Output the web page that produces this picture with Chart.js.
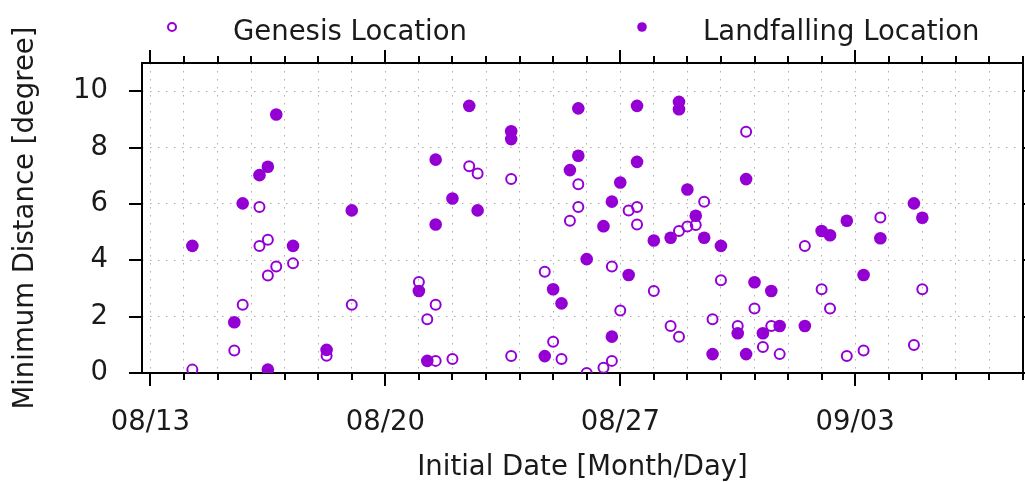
<!DOCTYPE html>
<html>
<head>
<meta charset="utf-8">
<script src="https://cdn.jsdelivr.net/npm/chart.js@4/dist/chart.umd.min.js"></script>
<style>
  html, body { margin: 0; padding: 0; background: #fff; }
  canvas { display: block; }
</style>
</head>
<body>
<canvas id="chart" width="1025" height="482"></canvas>
<script>
// x values are days of August (09/01 = 32), 6-hourly initial times
const genesisDay = [14.25, 15.5, 15.75, 16.25, 16.25, 16.5, 16.5, 16.75, 17.25, 18.25, 19, 21, 21.25, 21.5, 21.5,
  22, 22.5, 22.75, 23.75, 23.75, 24.75, 25, 25.25, 25.5, 25.75, 25.75, 26, 26.5, 26.75, 26.75,
  27, 27.25, 27.5, 27.5, 28, 28.5, 28.75, 28.75, 29, 29.25, 29.5, 29.75, 30, 30.5, 30.75,
  31, 31.25, 31.5, 31.75, 32.5, 33, 33.25, 33.75, 34.25, 34.75, 35.75, 36]
const genesisDist = [0.12, 0.80, 2.42, 5.89, 4.51, 4.73, 3.46, 3.78, 3.89, 0.61, 2.42, 3.23, 1.91, 2.42, 0.43,
  0.50, 7.34, 7.08, 6.88, 0.60, 3.59, 1.11, 0.50, 5.40, 6.70, 5.89, 0.00, 0.19, 0.43, 3.78,
  2.22, 5.77, 5.89, 5.27, 2.91, 1.67, 1.29, 5.04, 5.20, 5.25, 6.08, 1.91, 3.29, 1.67, 8.56,
  2.29, 0.92, 1.67, 0.67, 4.51, 2.97, 2.29, 0.60, 0.80, 5.52, 0.99, 2.97]

const landfallDay = [14.25, 15.5, 15.75, 16.25, 16.5, 16.5, 16.75, 17.25, 18.25, 19, 21, 21.25, 21.5, 21.5,
  22, 22.5, 22.75, 23.75, 23.75, 24.75, 25, 25.25, 25.5, 25.75, 25.75, 26, 26.5, 26.75, 26.75,
  27, 27.25, 27.5, 27.5, 28, 28.5, 28.75, 28.75, 29, 29.25, 29.5, 29.75, 30, 30.5, 30.75, 30.75,
  31, 31.25, 31.5, 31.75, 32.5, 33, 33.25, 33.75, 34.25, 34.75, 35.75, 36]
const landfallDist = [4.51, 1.80, 6.02, 7.02, 7.32, 0.12, 9.17, 4.51, 0.82, 5.77, 2.91, 0.43, 7.57, 5.27,
  6.19, 9.48, 5.77, 8.58, 8.30, 0.60, 2.97, 2.47, 7.20, 9.39, 7.71, 4.04, 5.21, 6.08, 1.29,
  6.76, 3.48, 9.48, 7.49, 4.70, 4.80, 9.62, 9.36, 6.51, 5.58, 4.80, 0.67, 4.51, 1.41, 6.88, 0.67,
  3.22, 1.41, 2.91, 1.67, 1.67, 5.04, 4.89, 5.40, 3.48, 4.78, 6.02, 5.51]

const tickDays = [13, 20, 27, 34]
const tickLabels = ['08/13', '08/20', '08/27', '09/03']
const distTicks = [0, 2, 4, 6, 8, 10]

const purple = '#9400d3'
const textColor = '#1a1a1a'
const fontFamily = "'DejaVu Sans', sans-serif"

const toPoints = (xs, ys) => xs.map((x, i) => ({x: x, y: ys[i]}))

// box, and ticks pointing outward on all four sides
const frame = {
  id: 'frame',
  beforeDatasetsDraw(chart) {
    const {ctx, chartArea: a, scales: {x, y}} = chart
    ctx.save()
    ctx.strokeStyle = '#000'
    ctx.lineWidth = 2
    ctx.strokeRect(a.left, a.top, a.right - a.left, a.bottom - a.top)
    ctx.beginPath()
    x.ticks.forEach(t => {
      const px = Math.round(x.getPixelForValue(t.value))
      const len = tickDays.includes(t.value) ? 13 : 7
      ctx.moveTo(px, a.bottom); ctx.lineTo(px, a.bottom + len)
      ctx.moveTo(px, a.top); ctx.lineTo(px, a.top - len)
    })
    y.ticks.forEach(t => {
      const py = Math.round(y.getPixelForValue(t.value))
      const len = distTicks.includes(t.value) ? 13 : 8
      ctx.moveTo(a.left, py); ctx.lineTo(a.left - len, py)
      ctx.moveTo(a.right, py); ctx.lineTo(a.right + len, py)
    })
    ctx.stroke()
    ctx.restore()
  }
}

const keyLegend = {
  id: 'keyLegend',
  afterDraw(chart) {
    const {ctx, chartArea: a} = chart
    const markX = [30, 500]
    const textX = [91, 561]
    ctx.save()
    ctx.font = '27.5px ' + fontFamily
    ctx.textBaseline = 'alphabetic'
    chart.data.datasets.forEach((ds, i) => {
      ctx.beginPath()
      if (ds.backgroundColor === 'transparent') {
        ctx.arc(a.left + markX[i], a.top - 36, 4, 0, Math.PI * 2)
        ctx.strokeStyle = ds.borderColor
        ctx.lineWidth = 2
        ctx.stroke()
      } else {
        ctx.arc(a.left + markX[i], a.top - 36, 4.8, 0, Math.PI * 2)
        ctx.fillStyle = ds.backgroundColor
        ctx.fill()
      }
      ctx.fillStyle = textColor
      ctx.fillText(ds.label, a.left + textX[i], a.top - 23)
    })
    ctx.restore()
  }
}

const tickFont = {family: fontFamily, size: 27.5}
const titleFont = {family: fontFamily, size: 27.5, lineHeight: 1}

new Chart(document.getElementById('chart'), {
  type: 'scatter',
  data: {
    datasets: [{
      label: 'Genesis Location',
      data: toPoints(genesisDay, genesisDist),
      backgroundColor: 'transparent',
      borderColor: purple,
      borderWidth: 2,
      pointRadius: 5,
      order: 2
    }, {
      label: 'Landfalling Location',
      data: toPoints(landfallDay, landfallDist),
      backgroundColor: purple,
      borderColor: purple,
      borderWidth: 0,
      pointRadius: 6.3,
      order: 1
    }]
  },
  options: {
    responsive: false,
    animation: false,
    devicePixelRatio: 1,
    layout: {autoPadding: false, padding: {top: 63, right: 2, bottom: 0, left: 0}},
    plugins: {
      legend: {display: false},
      tooltip: {enabled: false}
    },
    scales: {
      x: {
        type: 'linear',
        min: 12.75,
        max: 39,
        afterFit: s => { s.height = 109; s.paddingLeft = 0; s.paddingRight = 0 },
        grid: {color: '#adadad', lineWidth: 1, drawTicks: false},
        border: {display: false, dash: [1.5, 6.5]},
        ticks: {
          stepSize: 1,
          includeBounds: false,
          autoSkip: false,
          maxRotation: 0,
          padding: 33,
          color: textColor,
          font: tickFont,
          callback: v => {
            const i = tickDays.indexOf(v)
            return i >= 0 ? tickLabels[i] : ''
          }
        },
        title: {display: true, text: 'Initial Date [Month/Day]', color: textColor, font: titleFont, padding: {top: 0, bottom: 0}}
      },
      y: {
        min: 0,
        max: 11,
        afterFit: s => { s.width = 142; s.paddingTop = 0; s.paddingBottom = 0 },
        grid: {color: '#adadad', lineWidth: 1, drawTicks: false},
        border: {display: false, dash: [1.5, 6.5]},
        ticks: {
          stepSize: 1,
          padding: 34,
          color: textColor,
          font: tickFont,
          callback: v => distTicks.includes(v) ? String(v) : ''
        },
        title: {display: true, text: 'Minimum Distance [degree]', color: textColor, font: titleFont, padding: {top: 12, bottom: 0}}
      }
    }
  },
  plugins: [frame, keyLegend]
})
</script>
</body>
</html>
